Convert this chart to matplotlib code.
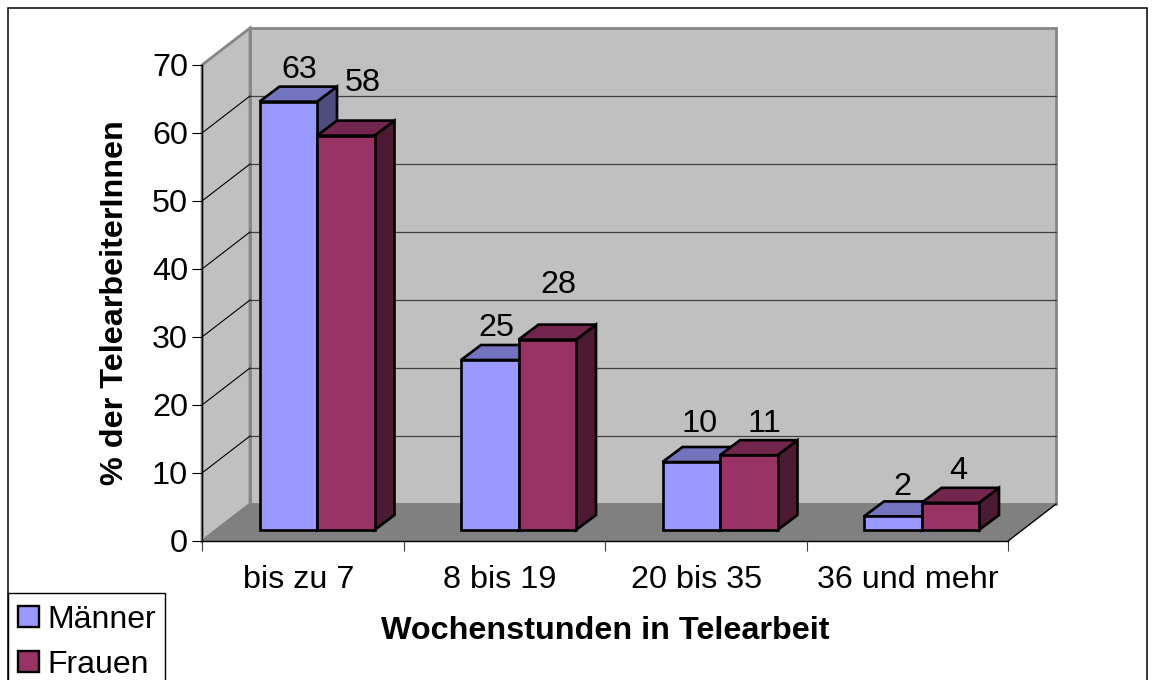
import matplotlib
matplotlib.use("Agg")
import numpy as np
from matplotlib import pyplot as plt
from matplotlib.patches import Patch, Polygon, Rectangle

categories = ["bis zu 7", "8 bis 19", "20 bis 35", "36 und mehr"]
maenner = [63, 25, 10, 2]
frauen = [58, 28, 11, 4]
y_ticks = [0, 10, 20, 30, 40, 50, 60, 70]

W, H = 1155, 680
# front plane of the fake 3d box, in pixels
LEFT, RIGHT, TOP, BOTTOM = 202, 1008, 65, 541
PX_X = (RIGHT - LEFT) / len(categories)
PX_Y = (BOTTOM - TOP) / 70


def px_x(p):
    return p / PX_X


def px_y(p):
    return p / PX_Y


def poly(ax, pts, color, edge="black", lw=1.9, z=3):
    ax.add_patch(Polygon(pts, closed=True, facecolor=color, edgecolor=edge,
                         linewidth=lw, zorder=z, clip_on=False, joinstyle="miter"))


def bar3d(ax, x0, width, value, colors, z):
    # front offset inside the box, then depth of the bar
    x0 = x0 + px_x(14)
    x1 = x0 + width
    y0 = px_y(11)
    y1 = y0 + value
    dx = px_x(20)
    dy = px_y(15)
    poly(ax, [(x1, y0), (x1 + dx, y0 + dy), (x1 + dx, y1 + dy), (x1, y1)], colors[2], z=z)
    poly(ax, [(x0, y1), (x1, y1), (x1 + dx, y1 + dy), (x0 + dx, y1 + dy)], colors[1], z=z)
    poly(ax, [(x0, y0), (x1, y0), (x1, y1), (x0, y1)], colors[0], z=z)


fig = plt.figure(figsize=(W / 100, H / 100), dpi=100)
plt.rcParams["font.family"] = ["Liberation Sans", "DejaVu Sans"]
FS = 23.3

ax = fig.add_axes([LEFT / W, 1 - BOTTOM / H, (RIGHT - LEFT) / W, (BOTTOM - TOP) / H])
ax.patch.set_alpha(0)
ax.set_xlim(0, len(categories))
ax.set_ylim(0, 70)

# chart frame and legend box, both run past the lower edge of the image
fig.add_artist(Rectangle((8 / W, -20 / H), (1147 - 8) / W, (672 + 20) / H, transform=fig.transFigure,
                         facecolor="none", edgecolor="black", linewidth=1.1))
fig.add_artist(Rectangle((8 / W, -20 / H), (165 - 8) / W, (87 + 20) / H, transform=fig.transFigure,
                         facecolor="white", edgecolor="black", linewidth=1.0))

n = len(categories)
back_dx = px_x(48)
back_dy = px_y(37)
wall = "#c0c0c0"
wall_edge = "#868686"
poly(ax, [(back_dx, back_dy), (n + back_dx, back_dy), (n + back_dx, 70 + back_dy), (back_dx, 70 + back_dy)],
     wall, edge=wall_edge, lw=2, z=1)
poly(ax, [(0, 0), (back_dx, back_dy), (back_dx, 70 + back_dy), (0, 70)], wall, edge=wall_edge, lw=2, z=1)
poly(ax, [(0, 0), (n, 0), (n + back_dx, back_dy), (back_dx, back_dy)], "#808080", edge="#808080", lw=1, z=1.1)
ax.plot([n, n + back_dx], [0, back_dy], color="black", lw=0.9, zorder=1.2, clip_on=False)

for v in y_ticks[1:-1]:
    ax.plot([back_dx, n + back_dx], [v + back_dy, v + back_dy], color="#404040", lw=0.9, zorder=1.2, clip_on=False)
    ax.plot([0, back_dx], [v, v + back_dy], color="black", lw=0.8, zorder=1.2, clip_on=False)

blue = ("#9999ff", "#7373bf", "#4d4d80")
red = ("#993366", "#73264d", "#4d1a33")
bar_w = px_x(57.5)
gap = px_x(43.5)
label_nudge_m = [(1, 0), (-3, 0), (-2, 6), (0, -3)]
label_nudge_f = [(7, 21), (1, 23), (6, -1), (-2, 0)]
for i in range(n):
    x = i + gap
    bar3d(ax, x, bar_w, maenner[i], blue, 3 + i * 0.1)
    bar3d(ax, x + bar_w, bar_w, frauen[i], red, 3.05 + i * 0.1)
    for x_b, val, nudge in ((x, maenner[i], label_nudge_m[i]), (x + bar_w, frauen[i], label_nudge_f[i])):
        tx = x_b + px_x(14) + bar_w / 2 + px_x(10) + px_x(nudge[0])
        ty = px_y(11) + val + px_y(15) + px_y(17) + px_y(nudge[1])
        ax.text(tx, ty, str(val), ha="center", va="center", fontsize=FS, color="black", zorder=6)

for s in ("top", "right"):
    ax.spines[s].set_visible(False)
for s in ("left", "bottom"):
    ax.spines[s].set_linewidth(1.0)
    ax.spines[s].set_zorder(2)

ax.set_yticks(y_ticks)
ax.tick_params(axis="y", labelsize=FS, length=7, width=0.8, pad=3)
ax.set_xticks(np.arange(n + 1))
ax.set_xticklabels([])
ax.tick_params(axis="x", which="major", length=7, width=0.8, color="#404040")
# Excel does not centre these exactly
cat_nudge = [-4, -5, -9, 1]
ax.set_xticks(np.arange(n) + 0.5 + px_x(np.array(cat_nudge)), minor=True)
ax.set_xticklabels(categories, minor=True)
ax.tick_params(axis="x", which="minor", length=0, labelsize=FS, pad=17)

fig.text(115 / W, 1 - 303 / H, "% der TelearbeiterInnen", rotation=90, ha="center", va="center",
         fontsize=FS, fontweight="bold")
fig.text(605 / W, 1 - 631 / H, "Wochenstunden in Telearbeit", ha="center", va="center",
         fontsize=FS, fontweight="bold")

handles = [Patch(facecolor=blue[0], edgecolor="black", linewidth=1.7, label="Männer"),
           Patch(facecolor=red[0], edgecolor="black", linewidth=1.7, label="Frauen")]
leg = fig.legend(handles=handles, loc="upper left", bbox_to_anchor=(18 / W, 1 - 605 / H), borderaxespad=0,
                 fontsize=23, frameon=False, handlelength=0.65, handleheight=0.65, handletextpad=0.28,
                 labelspacing=0.47, borderpad=0)
leg.set_zorder(10)

fig.savefig("out.png", dpi=100)
